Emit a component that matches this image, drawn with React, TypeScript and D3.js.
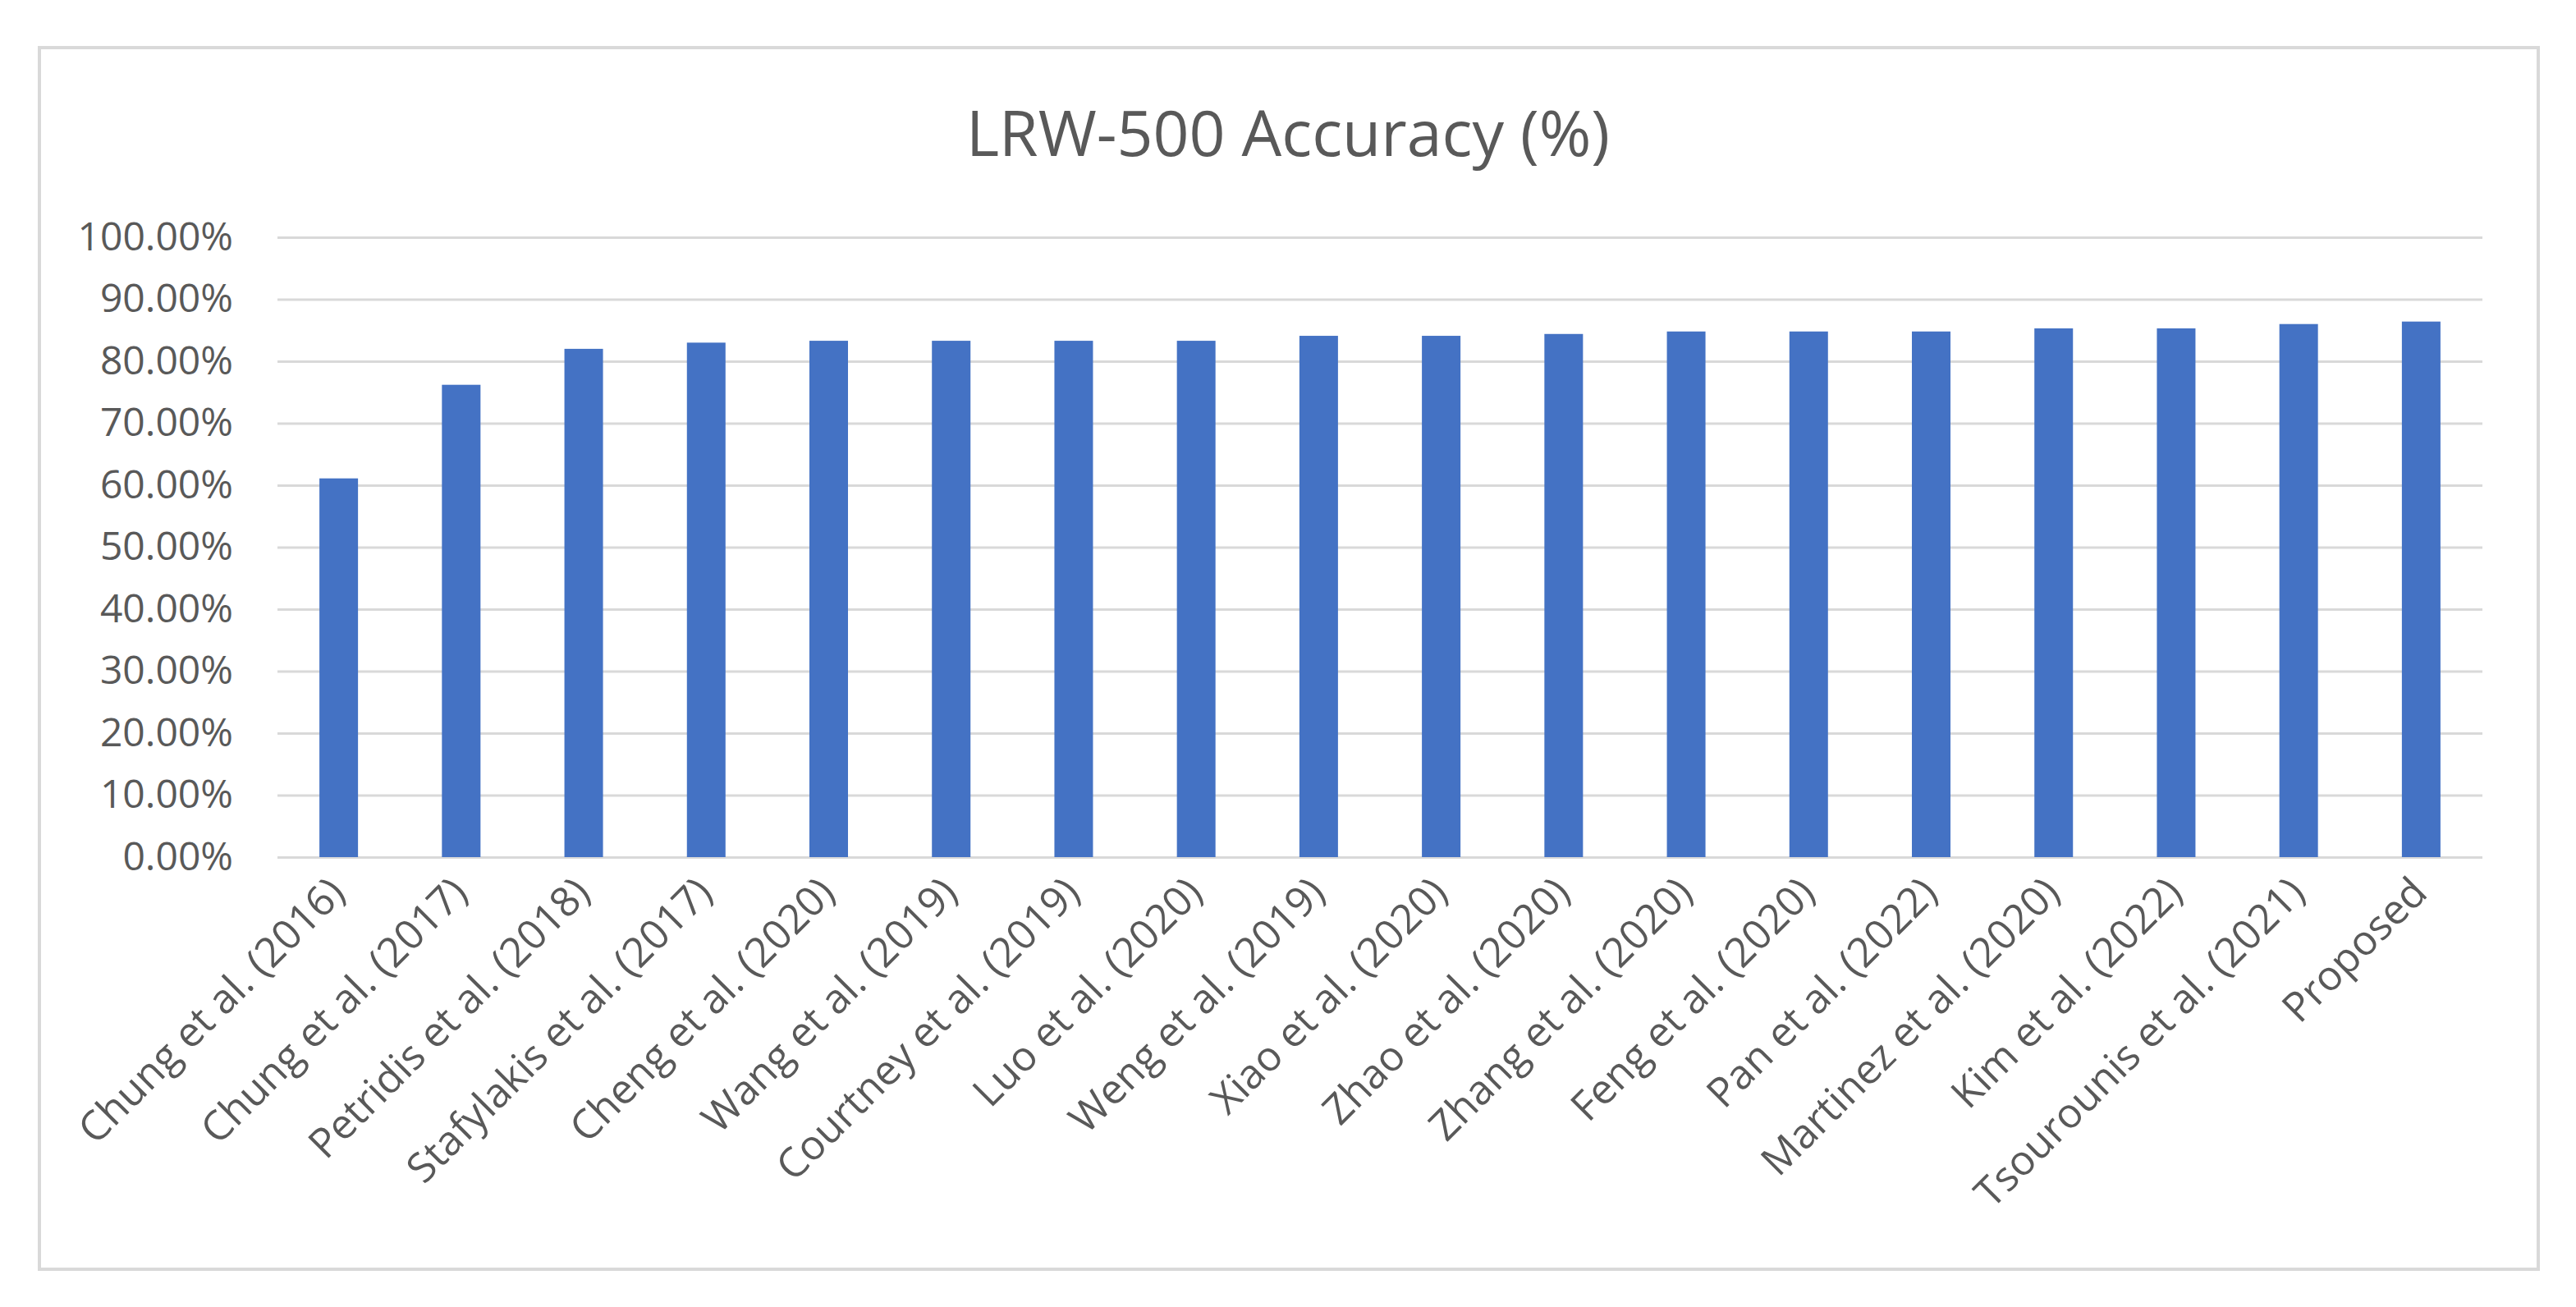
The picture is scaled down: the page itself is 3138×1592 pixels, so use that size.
import React, { useRef, useEffect } from 'react';
import { select, scaleBand, scaleLinear, axisLeft } from 'd3';

const categories = [
  'Chung et al. (2016)',
  'Chung et al. (2017)',
  'Petridis et al. (2018)',
  'Stafylakis et al. (2017)',
  'Cheng et al. (2020)',
  'Wang et al. (2019)',
  'Courtney et al. (2019)',
  'Luo et al. (2020)',
  'Weng et al. (2019)',
  'Xiao et al. (2020)',
  'Zhao et al. (2020)',
  'Zhang et al. (2020)',
  'Feng et al. (2020)',
  'Pan et al. (2022)',
  'Martinez et al. (2020)',
  'Kim et al. (2022)',
  'Tsourounis et al. (2021)',
  'Proposed',
];
const accuracy = [61.1, 76.2, 82.0, 83.0, 83.3, 83.3, 83.3, 83.3, 84.1, 84.1, 84.4, 84.8, 84.8, 84.8, 85.3, 85.3, 86.0, 86.4];
const yTicks = [0, 10, 20, 30, 40, 50, 60, 70, 80, 90, 100];
const title = 'LRW-500 Accuracy (%)';

const W = 3138;
const H = 1592;
const FONT = '"Open Sans", "Segoe UI", sans-serif';

function App() {
  const svgRef = useRef(null);

  useEffect(() => {
    const svg = select(svgRef.current);
    svg.selectAll('*').remove();

    const left = 338;
    const right = 3024;
    const top = 289;
    const bottom = 1044;

    const x = scaleBand().domain(categories).range([left, right]).paddingInner(0.685).paddingOuter(0.3425);
    const y = scaleLinear().domain([0, 100]).range([bottom, top]);

    // chart frame
    svg
      .append('rect')
      .attr('x', 48)
      .attr('y', 58)
      .attr('width', 3044)
      .attr('height', 1488)
      .attr('fill', '#fff')
      .attr('stroke', '#d9d9d9')
      .attr('stroke-width', 4);

    svg
      .append('text')
      .attr('x', 1569)
      .attr('y', 190)
      .attr('text-anchor', 'middle')
      .attr('font-family', FONT)
      .attr('font-size', 77)
      .attr('fill', '#595959')
      .text(title);

    // gridlines + y labels
    const yAxis = svg
      .append('g')
      .attr('transform', `translate(${left},0)`)
      .call(
        axisLeft(y)
          .tickValues(yTicks)
          .tickSize(-(right - left))
          .tickPadding(54)
          .tickFormat((d) => `${Number(d).toFixed(2)}%`)
      );
    yAxis.select('.domain').remove();
    yAxis.selectAll('line').attr('stroke', '#d9d9d9').attr('stroke-width', 3);
    yAxis
      .selectAll('text')
      .attr('font-family', FONT)
      .attr('font-size', 48)
      .attr('fill', '#595959');

    svg
      .selectAll('.bar')
      .data(accuracy)
      .enter()
      .append('rect')
      .attr('class', 'bar')
      .attr('x', (d, i) => x(categories[i]))
      .attr('y', (d) => y(d))
      .attr('width', x.bandwidth())
      .attr('height', (d) => y(0) - y(d))
      .attr('fill', '#4472c4');

    // rotated category labels
    svg
      .selectAll('.xlab')
      .data(categories)
      .enter()
      .append('text')
      .attr('class', 'xlab')
      .attr('transform', (d) => `translate(${x(d) + x.bandwidth() / 2 + 10},${bottom + 46}) rotate(-45)`)
      .attr('text-anchor', 'end')
      .attr('font-family', FONT)
      .attr('font-size', 50)
      .attr('fill', '#595959')
      .text((d) => d);
  }, []);

  return (
    <svg
      ref={svgRef}
      width={W}
      height={H}
      style={{ position: 'absolute', left: 0, top: 0, background: '#fff' }}
    />
  );
}

export default App;
